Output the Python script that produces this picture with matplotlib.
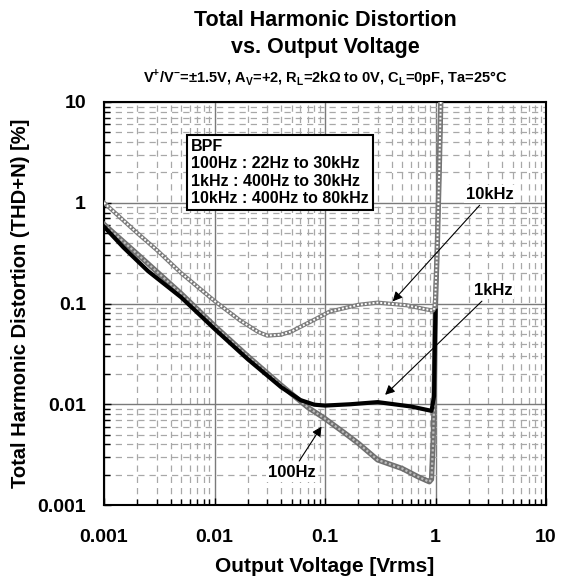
import matplotlib
matplotlib.use("Agg")
import matplotlib.pyplot as plt
from matplotlib.ticker import LogLocator, NullFormatter

plt.rcParams["font.family"] = ["Liberation Sans", "DejaVu Sans"]
plt.rcParams["font.weight"] = "bold"
plt.rcParams["mathtext.fontset"] = "custom"
plt.rcParams["mathtext.rm"] = "Liberation Sans:bold"
plt.rcParams["mathtext.bf"] = "Liberation Sans:bold"

# THD+N [%] vs. output voltage [Vrms]
vout_100hz = [0.001, 0.002, 0.005, 0.01, 0.02, 0.04, 0.07, 0.1, 0.15, 0.2, 0.3,
              0.5, 0.7, 0.88, 0.92, 0.95, 0.97, 1.0, 1.04, 1.08, 1.12]
thd_100hz = [0.61, 0.31, 0.125, 0.06, 0.03, 0.0155, 0.0093, 0.0072, 0.0052, 0.0041,
             0.0028, 0.0023, 0.0019, 0.0017, 0.0018, 0.004, 0.01, 0.1, 0.4, 2.0, 12.0]

vout_1khz = [0.001, 0.0015, 0.0025, 0.005, 0.01, 0.02, 0.04, 0.06, 0.08, 0.1, 0.17,
             0.3, 0.6, 0.92, 0.97, 0.99, 1.0]
thd_1khz = [0.58, 0.36, 0.21, 0.115, 0.056, 0.028, 0.0148, 0.011, 0.0099, 0.0097,
            0.01, 0.0105, 0.0095, 0.0086, 0.012, 0.05, 0.085]

vout_10khz = [0.001, 0.002, 0.003, 0.005, 0.01, 0.017, 0.025, 0.03, 0.04, 0.05, 0.078,
              0.11, 0.2, 0.3, 0.55, 0.8, 0.95, 0.98, 1.0, 1.04, 1.08, 1.12]
thd_10khz = [1.0, 0.5, 0.34, 0.2, 0.106, 0.068, 0.052, 0.048, 0.049, 0.053, 0.068,
             0.083, 0.097, 0.102, 0.096, 0.088, 0.085, 0.09, 0.13, 0.4, 2.0, 12.0]

x_ticks = [0.001, 0.01, 0.1, 1, 10]
x_tick_labels = ["0.001", "0.01", "0.1", "1", "10"]
y_ticks = [0.001, 0.01, 0.1, 1, 10]
y_tick_labels = ["0.001", "0.01", "0.1", "1", "10"]

filter_note = "BPF\n100Hz : 22Hz to 30kHz\n1kHz : 400Hz to 30kHz\n10kHz : 400Hz to 80kHz"

fig = plt.figure(figsize=(5.66, 5.81), dpi=100)
ax = fig.add_axes([104 / 566, 1 - 505 / 581, 442 / 566, 403 / 581])
ax.set_xscale("log")
ax.set_yscale("log")
ax.set_xlim(0.001, 10)
ax.set_ylim(0.001, 10)

# grid: solid decades, dashed intermediate lines
ax.xaxis.set_minor_locator(LogLocator(base=10, subs=range(2, 10)))
ax.yaxis.set_minor_locator(LogLocator(base=10, subs=range(2, 10)))
ax.xaxis.set_minor_formatter(NullFormatter())
ax.yaxis.set_minor_formatter(NullFormatter())
ax.grid(True, which="major", color="#7a7a7a", lw=1.0, ls="-")
ax.grid(True, which="minor", color="#a8a8a8", lw=0.9, ls=(0, (5, 4)))
ax.set_axisbelow(True)

# 100Hz: mid-gray textured trace
ax.plot(vout_100hz, thd_100hz, color="#707070", lw=3.8, solid_joinstyle="round", zorder=3)
ax.plot(vout_100hz, thd_100hz, color="#bdbdbd", lw=1.6, ls=(0, (1, 1)), zorder=3.1)
# 1kHz: solid black trace
ax.plot(vout_1khz, thd_1khz, color="black", lw=3.0, solid_joinstyle="round", zorder=4)
# 10kHz: light textured trace
ax.plot(vout_10khz, thd_10khz, color="#7c7c7c", lw=3.0, solid_joinstyle="round", zorder=5)
ax.plot(vout_10khz, thd_10khz, color="white", lw=1.4, ls=(0, (1, 1)), zorder=5.1)

ax.set_xticks(x_ticks, x_tick_labels)
ax.set_yticks(y_ticks, y_tick_labels)
ax.tick_params(which="both", direction="in", top=False, right=False,
               labelsize=14, color="black")
ax.tick_params(which="major", length=5, width=1)
ax.tick_params(which="minor", length=4, width=1)
ax.tick_params(axis="x", which="major", pad=17)
ax.tick_params(axis="y", which="major", pad=13)
for lab in ax.get_xticklabels() + ax.get_yticklabels():
    lab.set_fontweight("bold")
for sp in ax.spines.values():
    sp.set_linewidth(1.5)
    sp.set_color("black")

ax.set_xlabel("Output Voltage [Vrms]", fontsize=15, fontweight="bold")
ax.set_ylabel("Total Harmonic Distortion (THD+N) [%]", fontsize=14.5, fontweight="bold")
ax.xaxis.set_label_coords(0.5, -0.128)
ax.yaxis.set_label_coords(-0.168, 0.5)

# filter settings box
ax.text(0.0061, 4.3, filter_note, fontsize=11.5, fontweight="bold", va="top", ha="left",
        linespacing=1.2, zorder=6,
        bbox=dict(boxstyle="square,pad=0.25", fc="white", ec="black", lw=1.5))

# curve labels with arrows
arrow = dict(arrowstyle="-|>", color="black", lw=0.8, mutation_scale=14, shrinkA=2, shrinkB=0)
label_box = dict(boxstyle="square,pad=0.1", fc="white", ec="none")
ax.annotate("10kHz", xy=(0.41, 0.105), xytext=(3.1, 1.22), fontsize=12, fontweight="bold",
            ha="center", va="center", bbox=label_box, arrowprops=arrow, zorder=7)
ax.annotate("1kHz", xy=(0.35, 0.0124), xytext=(3.34, 0.136), fontsize=12, fontweight="bold",
            ha="center", va="center", bbox=label_box, arrowprops=arrow, zorder=7)
ax.annotate("100Hz", xy=(0.093, 0.006), xytext=(0.05, 0.0021), fontsize=12, fontweight="bold",
            ha="center", va="center", bbox=label_box, arrowprops=arrow, zorder=7)

cx = (104 + 546) / 2 / 566
fig.text(cx, 1 - 20 / 581, "Total Harmonic Distortion", ha="center", va="center",
         fontsize=15.5, fontweight="bold")
fig.text(cx, 1 - 47 / 581, "vs. Output Voltage", ha="center", va="center",
         fontsize=15.5, fontweight="bold")
fig.text(cx, 1 - 77 / 581,
         r"V$^{\mathbf{+}}$/V$^{\mathbf{-}}$=±1.5V, A$_{\mathbf{V}}$=+2, "
         r"R$_{\mathbf{L}}$=2kΩ to 0V, C$_{\mathbf{L}}$=0pF, Ta=25°C",
         ha="center", va="center", fontsize=10.5, fontweight="bold")

fig.savefig("out.png", dpi=100)
